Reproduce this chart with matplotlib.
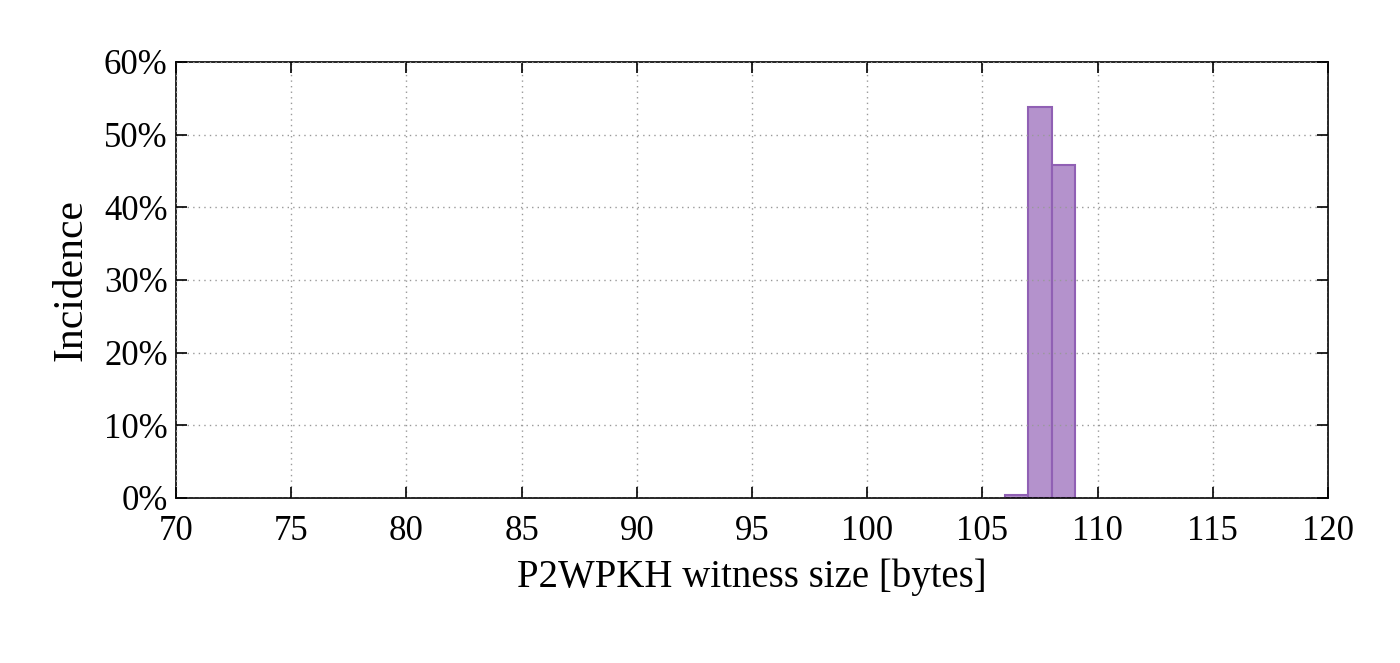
import matplotlib
matplotlib.use("Agg")
import matplotlib.pyplot as plt
from matplotlib.ticker import FuncFormatter

bin_left = [106, 107, 108]
incidence = [0.4, 53.8, 45.8]
x_ticks = list(range(70, 121, 5))
y_ticks = list(range(0, 61, 10))

plt.rcParams["font.family"] = ["Liberation Serif", "DejaVu Serif"]

fig = plt.figure(figsize=(14, 6.63), dpi=100)
ax = fig.add_axes([176 / 1400, 1 - 498 / 663, 1152 / 1400, 436 / 663])

ax.bar(bin_left, incidence, width=1, align="edge",
       color="#b492cc", edgecolor="#9060b4", linewidth=1.5, zorder=2)

ax.set_xlim(70, 120)
ax.set_ylim(0, 60)
ax.set_xticks(x_ticks)
ax.set_yticks(y_ticks)
ax.yaxis.set_major_formatter(FuncFormatter(lambda v, p: f"{v:.0f}%"))
ax.tick_params(direction="in", length=8, width=1.2, top=True, right=True,
               labelsize=25)
ax.tick_params(axis="x", pad=12)
ax.tick_params(axis="y", pad=6)
ax.grid(True, linestyle=(0, (1, 3)), color="#999999", linewidth=1, zorder=3)
ax.set_axisbelow(False)
for s in ax.spines.values():
    s.set_linewidth(1.2)

ax.set_xlabel("P2WPKH witness size [bytes]", fontsize=28, labelpad=8)
ax.set_ylabel("Incidence", fontsize=30, labelpad=10)

fig.savefig("out.png", dpi=100)
